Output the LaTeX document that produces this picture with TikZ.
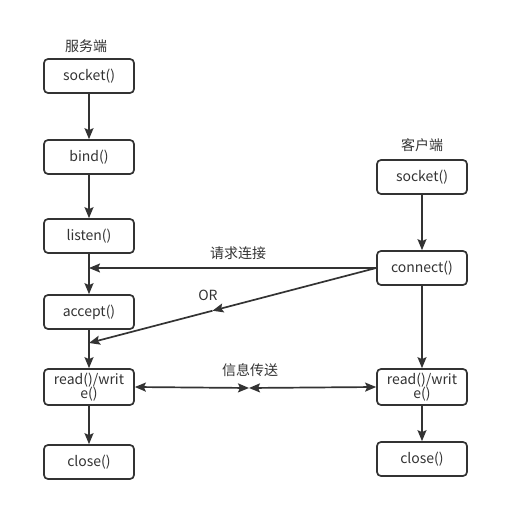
\documentclass[tikz,border=0pt]{standalone}
\usepackage{fontspec}
\setmainfont{Noto Sans CJK SC}
\usetikzlibrary{arrows.meta,calc}
\definecolor{ink}{HTML}{333333}
\tikzset{
  box/.style={draw=ink, line width=1.7pt, rounded corners=4pt, minimum width=90pt, minimum height=34pt, inner sep=0pt, align=center, text=ink, font=\fontsize{14}{13}\selectfont},
  tallbox/.style={box, minimum height=36pt},
  lbl/.style={text=ink, font=\fontsize{14}{16}\selectfont, inner sep=0pt},
  conn/.style={draw=ink, line width=1.7pt, -{Stealth[length=11pt,width=9pt,inset=2pt]}},
  dconn/.style={draw=ink, line width=1.7pt, {Stealth[length=11pt,width=9pt,inset=2pt]}-{Stealth[length=11pt,width=9pt,inset=2pt]}},
}
\begin{document}
\begin{tikzpicture}[x=1pt,y=-1pt]
\useasboundingbox (0,0) rectangle (507,505);
% server side
\node[lbl] (srv) at (86,46) {服务端};
\node[box] (lsock) at (89,76) {socket()};
\node[box] (lbind) at (89,157) {bind()};
\node[box] (llisten) at (89,236) {listen()};
\node[box] (laccept) at (89,312) {accept()};
\node[tallbox] (lrw) at (89,387) {read()/writ\\[-1pt]e()};
\node[box] (lclose) at (89,462) {close()};
% client side
\node[lbl] (cli) at (422,145) {客户端};
\node[box] (rsock) at (422,177) {socket()};
\node[box] (rconn) at (422,268) {connect()};
\node[tallbox] (rrw) at (422,387) {read()/writ\\[-1pt]e()};
\node[box] (rclose) at (422,459) {close()};
% vertical flows
\draw[conn] (lsock) -- (lbind);
\draw[conn] (lbind) -- (llisten);
\draw[conn] (llisten) -- (laccept);
\draw[conn] (laccept) -- (lrw);
\draw[conn] (lrw) -- (lclose);
\draw[conn] (rsock) -- (rconn);
\draw[conn] (rconn) -- (rrw);
\draw[conn] (rrw) -- (rclose);
% connect request
\coordinate (req) at (89,268);
\draw[conn] (rconn.west) -- (req);
\node[lbl] (reqlbl) at (238,253) {请求连接};
% OR
\coordinate (orend) at (89,343);
\coordinate (ormid) at ($(rconn.west)!0.57!(orend)$);
\draw[conn] (rconn.west) -- (ormid);
\draw[conn] (ormid) -- (orend);
\node[lbl] (orlbl) at (208,295) {OR};
% data transfer
\coordinate (mid) at (249,388);
\draw[dconn] (lrw.east) -- (mid);
\draw[dconn] (mid) -- (rrw.west);
\node[lbl] (msglbl) at (250,370) {信息传送};
\end{tikzpicture}
\end{document}
